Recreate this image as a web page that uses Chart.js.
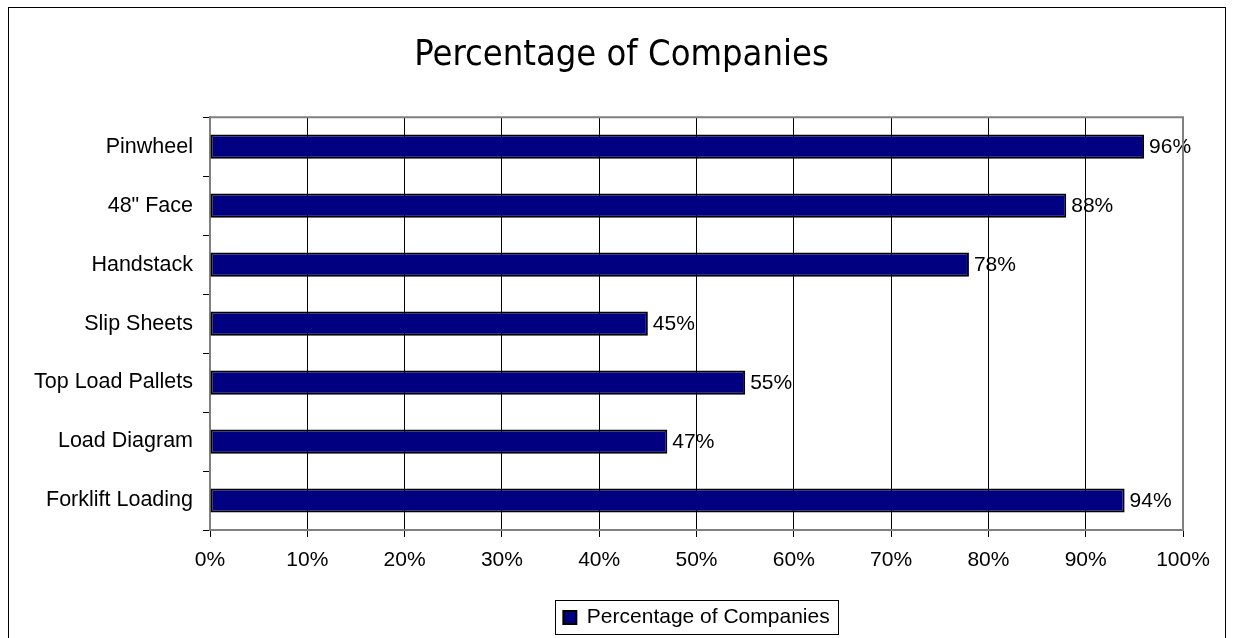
<!DOCTYPE html>
<html>
<head>
<meta charset="utf-8">
<title>Percentage of Companies</title>
<script src="https://cdn.jsdelivr.net/npm/chart.js@4.4.0/dist/chart.umd.min.js"></script>
<style>
    html, body { margin: 0; padding: 0; background: #fff; }
    #wrap { position: relative; width: 1235px; height: 638px; }
</style>
</head>
<body>
<div id="wrap"><canvas id="companiesChart"></canvas></div>
<script>
// Datos del gráfico
const categories = ['Pinwheel', '48" Face', 'Handstack', 'Slip Sheets', 'Top Load Pallets', 'Load Diagram', 'Forklift Loading'];
const percentages = [96, 88, 78, 45, 55, 47, 94];
const seriesName = 'Percentage of Companies';
const xTicks = [0, 10, 20, 30, 40, 50, 60, 70, 80, 90, 100];

const NAVY = '#000080';
const FONT = "'Liberation Sans', Arial, sans-serif";

// Marco exterior, borde gris del área de trazado y recuadro de la leyenda
const framePlugin = {
    id: 'frame',
    afterLayout(chart) {
        // el título se centra sobre el marco, no sobre el bloque de ejes
        chart.titleBlock.left = 60;
    },
    afterDraw(chart) {
        const ctx = chart.ctx;
        const a = chart.chartArea;
        ctx.save();
        ctx.lineWidth = 2;
        ctx.strokeStyle = '#808080';
        ctx.beginPath();
        ctx.moveTo(a.left, a.top);
        ctx.lineTo(a.right, a.top);
        ctx.lineTo(a.right, a.bottom);
        ctx.stroke();

        ctx.lineWidth = 1;
        ctx.strokeStyle = '#000';
        ctx.strokeRect(8.5, 7.5, 1217, 700);

        const items = chart.legend.legendHitBoxes;
        if (items && items.length) {
            const h = items[0];
            const left = Math.round(h.left) - 7.5;
            const top = Math.round(h.top) - 6.5;
            const right = Math.round(h.left + h.width) + 8.5;
            ctx.strokeRect(left, top, right - left, Math.round(h.height) + 13);
        }
        ctx.restore();
    }
};

// Etiquetas de valor al final de cada barra
const valueLabelPlugin = {
    id: 'valueLabels',
    afterDatasetsDraw(chart) {
        const ctx = chart.ctx;
        const meta = chart.getDatasetMeta(0);
        ctx.save();
        ctx.font = '21px ' + FONT;
        ctx.fillStyle = '#000';
        ctx.textAlign = 'left';
        ctx.textBaseline = 'middle';
        meta.data.forEach((bar, i) => {
            ctx.fillText(chart.data.datasets[0].data[i] + '%', bar.x + 5, bar.y + 1);
        });
        ctx.restore();
    }
};

new Chart(document.getElementById('companiesChart'), {
    type: 'bar',
    data: {
        labels: categories,
        datasets: [{
            label: seriesName,
            data: percentages,
            backgroundColor: NAVY,
            borderColor: '#000',
            borderWidth: 2,
            borderSkipped: false,
            categoryPercentage: 1,
            barPercentage: 0.41
        }]
    },
    options: {
        indexAxis: 'y',
        responsive: true,
        maintainAspectRatio: false,
        animation: false,
        layout: {
            padding: { left: 8, right: 52, top: 0, bottom: 0 }
        },
        plugins: {
            title: {
                display: true,
                text: seriesName,
                color: '#000',
                font: { family: "'DejaVu Sans Condensed', 'DejaVu Sans', sans-serif", size: 36, weight: 'normal' },
                padding: { top: 34, bottom: 40 }
            },
            legend: {
                position: 'bottom',
                fullSize: false,
                labels: {
                    color: '#000',
                    font: { family: FONT, size: 21 },
                    boxWidth: 13,
                    boxHeight: 13,
                    padding: 7
                }
            },
            tooltip: { enabled: false }
        },
        scales: {
            x: {
                type: 'linear',
                min: 0,
                max: 100,
                afterBuildTicks(scale) {
                    scale.ticks = xTicks.map(v => ({ value: v }));
                },
                afterFit(scale) {
                    scale.height = 70;
                },
                ticks: {
                    color: '#000',
                    font: { family: FONT, size: 21 },
                    padding: 11,
                    maxRotation: 0,
                    callback: v => v + '%'
                },
                grid: {
                    color: '#000',
                    lineWidth: 1,
                    tickLength: 7,
                    tickColor: '#000'
                },
                border: { color: '#808080', width: 2 }
            },
            y: {
                afterFit(scale) {
                    scale.width = 202;
                },
                ticks: {
                    color: '#000',
                    font: { family: FONT, size: 21.5 },
                    padding: 10
                },
                grid: {
                    offset: true,
                    drawOnChartArea: false,
                    tickLength: 7,
                    color: '#000'
                },
                border: { color: '#808080', width: 2 }
            }
        }
    },
    plugins: [framePlugin, valueLabelPlugin]
});
</script>
</body>
</html>
